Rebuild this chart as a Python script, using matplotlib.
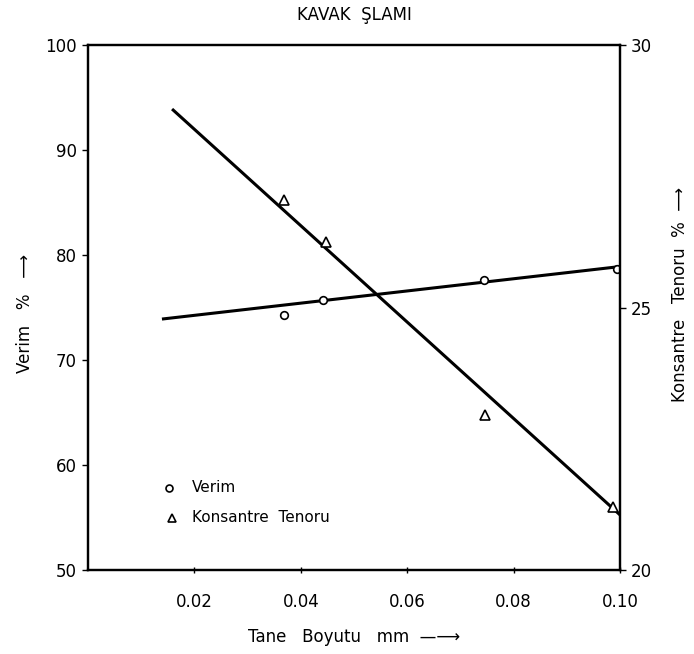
import matplotlib
matplotlib.use("Agg")
import matplotlib.pyplot as plt

# measured points
size_verim = [0.0368, 0.0442, 0.0744, 0.0994]
verim = [74.3, 75.7, 77.6, 78.7]
size_tenor = [0.0368, 0.0447, 0.0746, 0.0987]
tenor = [27.05, 26.25, 22.95, 21.2]

# fitted lines as drawn
verim_fit_x = [0.0139, 0.1000]
verim_fit_y = [73.9, 78.9]
tenor_fit_x = [0.0158, 0.1000]
tenor_fit_y = [28.78, 21.05]

xticks = [0.02, 0.04, 0.06, 0.08, 0.10]
xtick_labels = ["0.02", "0.04", "0.06", "0.08", "0.10"]
left_ticks = [50, 60, 70, 80, 90, 100]
right_ticks = [20, 25, 30]

plt.rcParams["font.family"] = ["DejaVu Sans"]

fig = plt.figure(figsize=(6.94, 6.54), dpi=100)
ax = fig.add_axes([0.1268, 0.1284, 0.7666, 0.8028])
ax2 = ax.twinx()

ax.plot(verim_fit_x, verim_fit_y, color="black", linewidth=2.2, solid_capstyle="butt")
ax.plot(size_verim, verim, linestyle="none", marker="o", markersize=5.5,
        markerfacecolor="white", markeredgecolor="black", markeredgewidth=1.2)

ax2.plot(tenor_fit_x, tenor_fit_y, color="black", linewidth=2.2, solid_capstyle="butt")
ax2.plot(size_tenor, tenor, linestyle="none", marker="^", markersize=7,
         markerfacecolor="white", markeredgecolor="black", markeredgewidth=1.2)

ax.set_xlim(0, 0.10)
ax.set_ylim(50, 100)
ax2.set_ylim(20, 30)

ax.set_xticks(xticks)
ax.set_xticklabels(xtick_labels)
ax.set_yticks(left_ticks)
ax2.set_yticks(right_ticks)

ax.tick_params(axis="x", direction="inout", length=5, width=1, labelsize=12, pad=14)
ax.tick_params(axis="y", direction="out", length=4, width=1, labelsize=12, pad=4)
ax2.tick_params(axis="y", direction="out", length=4, width=1, labelsize=12, pad=4)

for a in (ax, ax2):
    for sp in a.spines.values():
        sp.set_linewidth(1.6)

ax.set_xlabel("Tane   Boyutu   mm  \u2014\u27f6", fontsize=12, labelpad=12)
fig.text(0.036, 0.52, "Verim   %   \u27f6", rotation=90, fontsize=12,
         ha="center", va="center")
fig.text(0.98, 0.55, "Konsantre   Tenoru  %  \u27f6", rotation=90, fontsize=12,
         ha="center", va="center")

fig.text(0.51, 0.977, "KAVAK  ŞLAMI", fontsize=12, ha="center", va="center")

# legend drawn as in the original, without a frame
ax.plot([0.0152], [57.8], linestyle="none", marker="o", markersize=5,
        markerfacecolor="white", markeredgecolor="black", markeredgewidth=1.2)
ax.text(0.0195, 57.9, "Verim", fontsize=11, va="center")
ax.plot([0.0158], [55.0], linestyle="none", marker="^", markersize=5.5,
        markerfacecolor="white", markeredgecolor="black", markeredgewidth=1.2)
ax.text(0.0195, 55.0, "Konsantre  Tenoru", fontsize=11, va="center")

fig.savefig("out.png", dpi=100)
